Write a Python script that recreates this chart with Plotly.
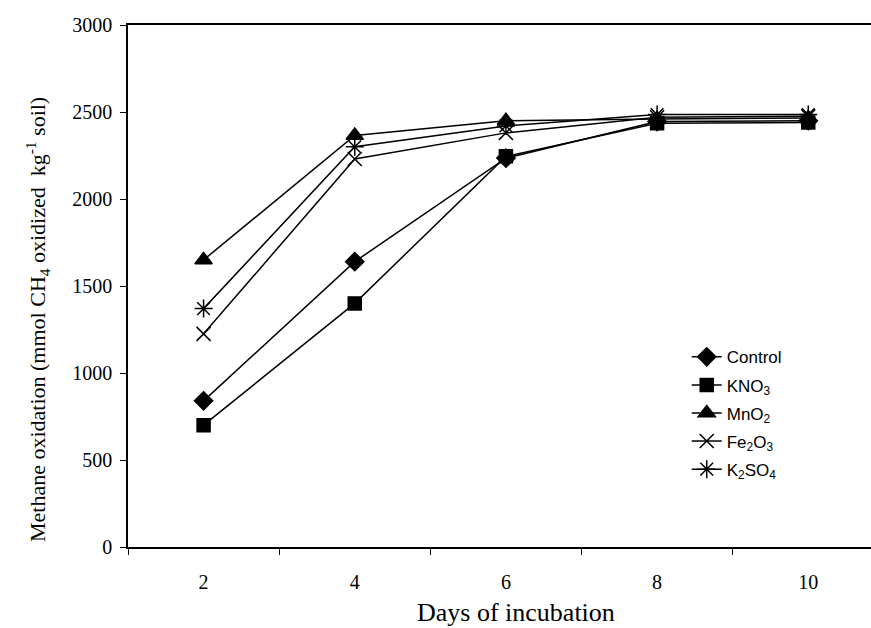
import plotly.graph_objects as go

days = [2, 4, 6, 8, 10]
control = [840, 1640, 2235, 2445, 2450]
kno3 = [700, 1400, 2245, 2435, 2440]
mno2 = [1650, 2365, 2450, 2460, 2465]
fe2o3 = [1225, 2230, 2380, 2470, 2475]
k2so4 = [1370, 2300, 2420, 2485, 2485]

x_ticks = [2, 4, 6, 8, 10]
x_minor = [1, 3, 5, 7, 9]
y_ticks = [0, 500, 1000, 1500, 2000, 2500, 3000]

x_title = "Days of incubation"
y_title = "Methane oxidation (mmol CH<sub>4</sub> oxidized  kg<sup>-1</sup> soil)"

series = [
    ("Control", control, "diamond", 14),
    ("KNO<sub>3</sub>", kno3, "square", 13),
    ("MnO<sub>2</sub>", mno2, "triangle-up", 15),
    ("Fe<sub>2</sub>O<sub>3</sub>", fe2o3, "x-thin-open", 14),
    ("K<sub>2</sub>SO<sub>4</sub>", k2so4, "asterisk-open", 15),
]

fig = go.Figure()
for i, (name, vals, sym, sz) in enumerate(series):
    fig.add_trace(go.Scatter(
        x=days, y=vals, name=name, mode="lines+markers",
        line=dict(color="black", width=1.5),
        marker=dict(symbol=sym, size=sz, color="black",
                    line=dict(color="black", width=1.5)),
        legendgroup=f"g{i}",
    ))

fig.update_layout(
    width=871, height=628,
    margin=dict(l=128, r=0, t=25, b=81, autoexpand=False),
    paper_bgcolor="white", plot_bgcolor="white",
    font=dict(family="Liberation Serif, Times New Roman, serif", size=20, color="black"),
    legend=dict(
        x=0.752, y=0.398, xanchor="left", yanchor="top",
        font=dict(family="Liberation Sans, Arial, sans-serif", size=17, color="black"),
        bgcolor="rgba(0,0,0,0)", tracegroupgap=3, traceorder="grouped",
        itemwidth=30,
    ),
    xaxis=dict(
        range=[1, 10.83], tickvals=x_ticks, ticktext=[str(v) for v in x_ticks],
        ticks="", showgrid=False, zeroline=False,
        showline=True, linecolor="black", linewidth=1.5, mirror=True,
        minor=dict(tickvals=x_minor, ticks="outside", ticklen=6,
                   tickcolor="black", showgrid=False),
        ticklabelstandoff=16,
        tickfont=dict(size=20),
    ),
    yaxis=dict(
        range=[0, 3000], tickvals=y_ticks,
        ticks="outside", ticklen=6, tickcolor="black",
        showgrid=False, zeroline=False,
        showline=True, linecolor="black", linewidth=1.5,
        tickfont=dict(size=20),
        ticklabelstandoff=4,
    ),
    annotations=[
        dict(text=x_title, xref="paper", yref="paper", x=0.522, y=-0.125,
             xanchor="center", yanchor="middle", showarrow=False,
             font=dict(size=26)),
        dict(text=y_title, xref="paper", yref="paper", x=-0.121, y=0.435,
             xanchor="center", yanchor="middle", showarrow=False, textangle=-90,
             font=dict(size=22)),
    ],
)

fig.write_html("out.html", config={"displayModeBar": False},
               post_script="document.body.style.margin='0';document.body.style.overflow='hidden';")
